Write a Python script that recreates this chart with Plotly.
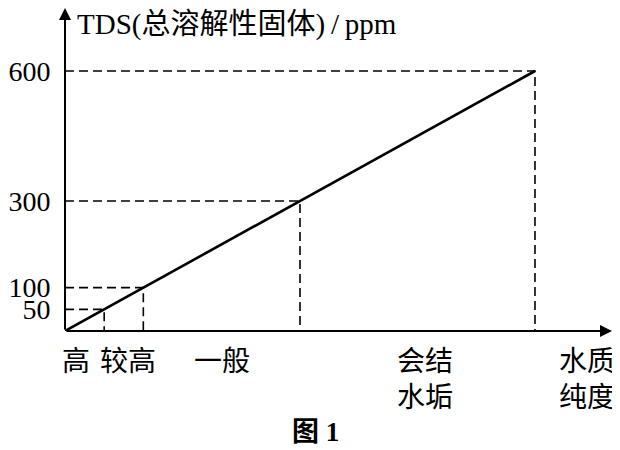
import plotly.graph_objects as go

# Data
tds_points = [0, 50, 100, 300, 600]          # line points (x position proportional to TDS)
marked_levels = [50, 100, 300, 600]          # dashed guide levels
y_tick_labels = ["50", "100", "300", "600"]
x_categories = ["高", "较高", "一般", "会结<br>水垢", "水质<br>纯度"]
x_category_pos = [14, 80, 200, 460, 667]
y_title = "TDS(总溶解性固体)\u2009/\u2009ppm"
fig_caption = "图 1"

# page has an 8px body margin, so the figure is shifted by 8px
W, H = 612, 442
ml, mr, mt, mb = 57, 8, 0, 119
PW, PH = W - ml - mr, H - mt - mb
x_max = PW / 0.7833
y_max = PH / 0.43333

serif = "Liberation Serif, Noto Sans CJK SC"
cjk = "Noto Sans CJK SC, Liberation Serif"


def px_x(px):
    return (px - 8 - ml) / PW


def px_y(py):
    return 1 - (py - 8 - mt) / PH


fig = go.Figure()

# dashed guides
for v in marked_levels:
    fig.add_trace(go.Scatter(x=[0, v, v], y=[v, v, 0], mode="lines",
                             line=dict(color="black", width=1.6, dash="9px,5px"),
                             hoverinfo="skip", showlegend=False, cliponaxis=False))

# main line
fig.add_trace(go.Scatter(x=tds_points, y=tds_points, mode="lines",
                         line=dict(color="black", width=2.6),
                         showlegend=False, cliponaxis=False))

annotations = []
# axes arrows
annotations.append(dict(x=x_max, y=0, ax=0, ay=0, xref="x", yref="y", axref="x", ayref="y",
                        showarrow=True, arrowhead=2, arrowsize=1.2, arrowwidth=2, arrowcolor="black", text=""))
annotations.append(dict(x=0, y=y_max, ax=0, ay=0, xref="x", yref="y", axref="x", ayref="y",
                        showarrow=True, arrowhead=2, arrowsize=1.2, arrowwidth=2, arrowcolor="black", text=""))

# y title
annotations.append(dict(x=px_x(75), y=px_y(25), xref="paper", yref="paper", text=y_title, showarrow=False,
                        xanchor="left", yanchor="middle", font=dict(family=serif, size=29, color="black")))

# x category labels (top line centred at y=355 px)
for lab, pos in zip(x_categories, x_category_pos):
    annotations.append(dict(x=pos, y=px_y(355), xref="x", yref="paper", text=lab,
                            showarrow=False, xanchor="center", yanchor="top", yshift=18,
                            align="center", font=dict(family=cjk, size=28, color="black")))

# caption
annotations.append(dict(x=px_x(315), y=px_y(432), xref="paper", yref="paper",
                        text="<b>" + fig_caption + "</b>",
                        showarrow=False, xanchor="center", yanchor="middle",
                        font=dict(family=serif, size=27, color="black")))

fig.update_layout(
    width=W, height=H, margin=dict(l=ml, r=mr, t=mt, b=mb, autoexpand=False),
    paper_bgcolor="white", plot_bgcolor="white",
    xaxis=dict(range=[0, x_max], showgrid=False, zeroline=False, showline=False,
               showticklabels=False, ticks=""),
    yaxis=dict(range=[0, y_max], showgrid=False, zeroline=False, showline=False,
               tickvals=marked_levels, ticktext=y_tick_labels, ticks="outside",
               ticklen=8, tickcolor="rgba(0,0,0,0)",
               tickfont=dict(family=serif, size=28, color="black")),
    annotations=annotations,
)

fig.write_html("out.html")
